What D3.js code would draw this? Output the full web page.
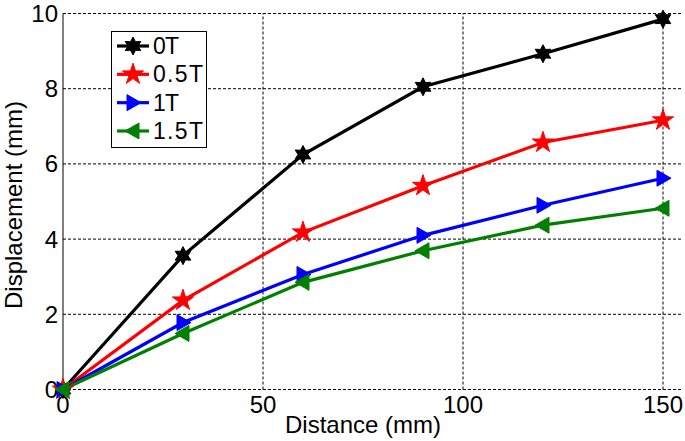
<!DOCTYPE html>
<html>
<head>
<meta charset="utf-8">
<script src="https://cdn.jsdelivr.net/npm/d3@7"></script>
<style>
  body { margin: 0; background: #fff; }
  svg { display: block; font-family: "Liberation Sans", Arial, sans-serif; }
</style>
</head>
<body>
<svg id="chart" width="685" height="441"></svg>
<script>
// data
const distance = [0, 30, 60, 90, 120, 150];
const seriesNames = ["0T", "0.5T", "1T", "1.5T"];
const disp0T = [0, 3.56, 6.25, 8.05, 8.93, 9.85];
const disp05T = [0, 2.37, 4.18, 5.42, 6.57, 7.16];
const disp1T = [0, 1.78, 3.06, 4.1, 4.9, 5.62];
const disp15T = [0, 1.49, 2.85, 3.69, 4.37, 4.82];
const xTicks = [0, 50, 100, 150];
const yTicks = [0, 2, 4, 6, 8, 10];

const series = [
    { name: seriesNames[0], values: disp0T, color: "#000000", marker: "hex" },
    { name: seriesNames[1], values: disp05T, color: "#ff0000", marker: "star" },
    { name: seriesNames[2], values: disp1T, color: "#0000ff", marker: "right" },
    { name: seriesNames[3], values: disp15T, color: "#008000", marker: "left" }
];

const svg = d3.select("#chart");
const x = d3.scaleLinear().domain([0, 155]).range([63, 683]);
const y = d3.scaleLinear().domain([0, 10]).range([389.5, 13.5]);

// grid
const grid = svg.append("g");
grid.selectAll(".gx").data(xTicks.filter(d => d > 0)).join("line")
    .attr("x1", d => x(d)).attr("x2", d => x(d))
    .attr("y1", y(0)).attr("y2", y(10))
    .attr("stroke", "#000").attr("stroke-width", 1).attr("stroke-dasharray", "3,2");
grid.selectAll(".gy").data(yTicks).join("line")
    .attr("x1", x(0)).attr("x2", x(155))
    .attr("y1", d => y(d)).attr("y2", d => y(d))
    .attr("stroke", "#000").attr("stroke-width", 1).attr("stroke-dasharray", "3,2");

// axis line on the left
svg.append("line")
    .attr("x1", x(0)).attr("x2", x(0))
    .attr("y1", y(0)).attr("y2", y(10))
    .attr("stroke", "#000").attr("stroke-width", 1);

// tick labels
svg.append("g").selectAll("text").data(xTicks).join("text")
    .attr("x", d => x(d)).attr("y", 413)
    .attr("text-anchor", "middle")
    .style("font-size", "24px")
    .text(d => d);
svg.append("g").selectAll("text").data(yTicks).join("text")
    .attr("x", 58).attr("y", d => y(d) + 8.5)
    .attr("text-anchor", "end")
    .style("font-size", "24px")
    .text(d => d);

// axis titles
svg.append("text")
    .attr("x", 363).attr("y", 433)
    .attr("text-anchor", "middle")
    .style("font-size", "24px")
    .text("Distance (mm)");
svg.append("text")
    .attr("transform", "translate(22,205) rotate(-90)")
    .attr("text-anchor", "middle")
    .style("font-size", "24px")
    .text("Displacement (mm)");

// markers
function hexagram(r) {
    let p = [];
    for (let i = 0; i < 12; i++) {
        const a = -Math.PI / 2 + i * Math.PI / 6;
        const rr = i % 2 === 0 ? r : r * 0.55;
        p.push([rr * Math.cos(a), rr * Math.sin(a)]);
    }
    return "M" + p.map(q => q.join(",")).join("L") + "Z";
}
function markerPath(type) {
    if (type === "hex") return hexagram(9);
    if (type === "star") return d3.symbol(d3.symbolStar, 140)();
    return "M-6,-8L8,0L-6,8Z";
}
function markerRotate(type) {
    return type === "left" ? " rotate(180)" : "";
}

const line = d3.line().x((d, i) => x(distance[i])).y(d => y(d));
const plot = svg.append("g");
series.forEach(s => {
    plot.append("path")
        .attr("d", line(s.values))
        .attr("fill", "none")
        .attr("stroke", s.color)
        .attr("stroke-width", 3.2);
});
series.forEach(s => {
    plot.selectAll(null).data(s.values).join("path")
        .attr("d", markerPath(s.marker))
        .attr("transform", (d, i) => `translate(${x(distance[i])},${y(d)})` + markerRotate(s.marker))
        .attr("fill", s.color)
        .attr("stroke", s.color)
        .attr("stroke-width", 1);
});

// legend
const legend = svg.append("g");
legend.append("rect")
    .attr("x", 111.5).attr("y", 31.5).attr("width", 95).attr("height", 116)
    .attr("fill", "#fff").attr("stroke", "#000").attr("stroke-width", 1);
const legY = d3.scalePoint().domain(seriesNames).range([46, 131]);
series.forEach(s => {
    const g = legend.append("g").attr("transform", `translate(0,${legY(s.name)})`);
    g.append("line").attr("x1", 117).attr("x2", 149).attr("y1", 0).attr("y2", 0)
        .attr("stroke", s.color).attr("stroke-width", 3.2);
    g.append("path").attr("d", markerPath(s.marker))
        .attr("transform", "translate(133,0)" + markerRotate(s.marker))
        .attr("fill", s.color).attr("stroke", s.color);
    g.append("text").attr("x", 153).attr("y", 8)
        .attr("textLength", s.name.length > 2 ? 50 : 26)
        .style("font-size", "23px")
        .text(s.name);
});
</script>
</body>
</html>
